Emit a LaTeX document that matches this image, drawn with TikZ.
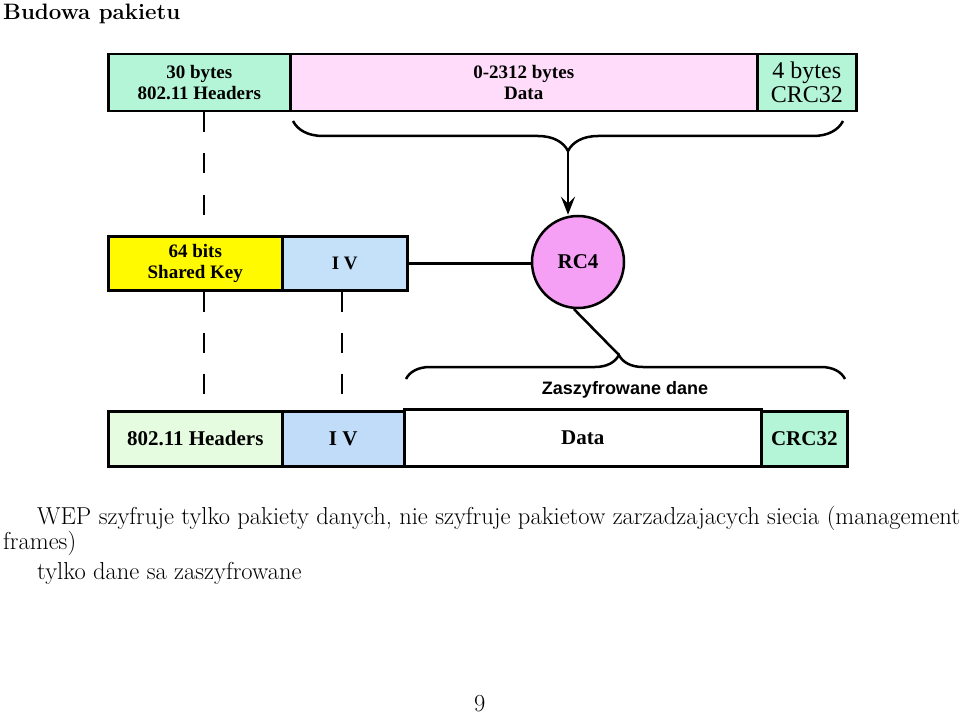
\documentclass[tikz,border=0pt]{standalone}
\usepackage{fontspec}
\newfontfamily\boxfont{Liberation Serif}
\newfontfamily\labfont{Liberation Sans}
\usetikzlibrary{decorations.pathreplacing,arrows.meta}
\definecolor{hdrgreen}{RGB}{180,245,215}
\definecolor{datapink}{RGB}{255,221,250}
\definecolor{keyyellow}{RGB}{255,250,0}
\definecolor{ivblue}{RGB}{197,225,250}
\definecolor{rcpink}{RGB}{245,160,245}
\definecolor{hdrlight}{RGB}{230,252,225}
\definecolor{ivblue2}{RGB}{192,220,248}
\tikzset{
  pktbox/.style={draw=black, line width=2.5pt, rectangle, anchor=north west, inner sep=0pt, align=center, font=\boxfont\bfseries\fontsize{19}{21}\selectfont},
  lowbox/.style={pktbox, font=\boxfont\bfseries\fontsize{21}{23}\selectfont},
  bigbrace/.style={decorate, decoration={brace, amplitude=#1}, line width=2.5pt},
  dashline/.style={line width=2.5pt, dash pattern=on 20pt off 21pt},
  conn/.style={line width=2.5pt},
  bodytext/.style={anchor=base west, inner sep=0pt, font=\fontsize{24.5}{29}\selectfont}
}
\begin{document}
\begin{tikzpicture}[x=1pt,y=1pt]
\useasboundingbox (0,0) rectangle (960,-714);
% title
\node[anchor=base west, inner sep=0pt, font=\bfseries\fontsize{22.3}{26}\selectfont] (title) at (3,-20) {Budowa pakietu};
% top row
\node[pktbox, fill=hdrgreen, minimum width=182pt, minimum height=57pt] (th) at (107,-53) {30 bytes\\802.11 Headers};
\node[pktbox, fill=datapink, minimum width=467pt, minimum height=57pt] (td) at (289,-53) {0-2312 bytes\\Data};
\node[pktbox, fill=hdrgreen, minimum width=99pt, minimum height=57pt, font=\boxfont\fontsize{24}{24}\selectfont] (tc) at (756,-53) {4 bytes\\CRC32};
% middle row
\node[pktbox, fill=keyyellow, minimum width=174pt, minimum height=54pt] (key) at (107,-235) {64 bits\\Shared Key};
\node[pktbox, fill=ivblue, minimum width=125pt, minimum height=54pt] (iv) at (281,-235) {I V};
\node[draw=black, line width=2.5pt, circle, fill=rcpink, minimum size=92pt, inner sep=0pt, font=\boxfont\bfseries\fontsize{21}{23}\selectfont] (rc4) at (578,-262) {RC4};
% bottom row
\node[lowbox, fill=hdrlight, minimum width=174pt, minimum height=55pt] (bh) at (107,-410) {802.11 Headers};
\node[lowbox, fill=ivblue2, minimum width=122pt, minimum height=55pt] (biv) at (281,-410) {I V};
\node[lowbox, fill=white, minimum width=357pt, minimum height=57pt] (bd) at (403,-408) {Data};
\node[lowbox, fill=hdrgreen, minimum width=86pt, minimum height=55pt] (bc) at (760,-410) {CRC32};
% braces
\coordinate (tbL) at (293,-121);
\coordinate (tbR) at (843,-121);
\draw[bigbrace=30pt] (tbR) -- (tbL);
\coordinate (ttip) at (568,-151);
\draw[conn, -{Stealth[length=18pt,width=14pt,inset=7pt]}] (ttip) -- (rc4.north -| ttip);
\coordinate (bbL) at (406,-379);
\coordinate (bbR) at (845,-379);
\draw[bigbrace=24pt, decoration={aspect=0.485}] (bbL) -- (bbR);
\coordinate (btip) at (619,-355);
\draw[conn] (rc4.-95) -- (btip);
\node[anchor=center, inner sep=0pt, font=\labfont\bfseries\fontsize{18}{20}\selectfont] (zl) at (625,-390) {Zaszyfrowane dane};
% IV to RC4
\draw[conn] (iv.east) -- (iv.east -| rc4.west);
% dashed lines
\coordinate (d1a) at (204,-110);
\coordinate (d1b) at (342,-289);
\draw[dashline] (th.south -| d1a) -- (key.north -| d1a);
\draw[dashline] (key.south -| d1a) -- (bh.north -| d1a);
\draw[dashline] (iv.south -| d1b) -- (biv.north -| d1b);
% text
\node[bodytext] (t1) at (37,-524) {WEP szyfruje tylko pakiety danych, nie szyfruje pakietow zarzadzajacych siecia (management};
\node[bodytext] (t2) at (3,-549) {frames)};
\node[bodytext] (t3) at (37,-579) {tylko dane sa zaszyfrowane};
\node[bodytext] (pg) at (474,-711) {9};
\end{tikzpicture}
\end{document}
